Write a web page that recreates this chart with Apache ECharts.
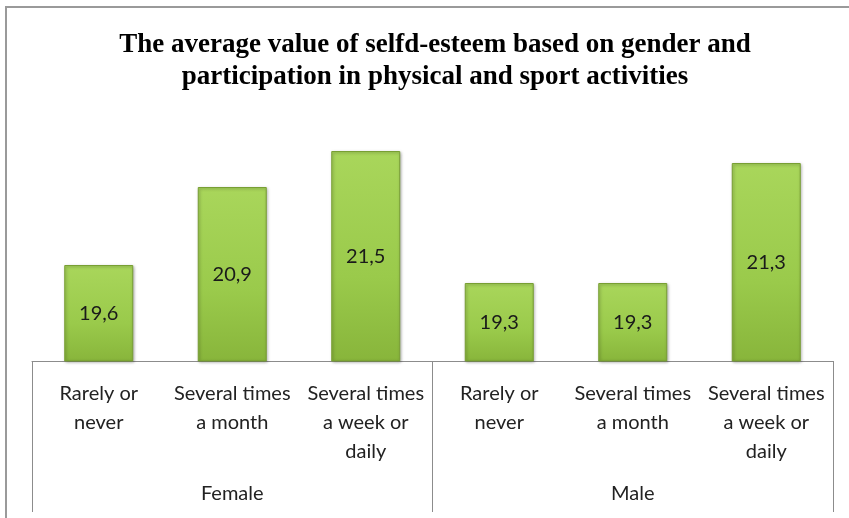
<!DOCTYPE html>
<html>
<head>
<meta charset="utf-8">
<script src="https://cdn.jsdelivr.net/npm/echarts@6/dist/echarts.min.js"></script>
<style>
  html, body { margin: 0; padding: 0; background: #fff; }
  #chart { width: 849px; height: 518px; }
</style>
</head>
<body>
<div id="chart"></div>
<script>
// data
var activity = ['Rarely or\nnever', 'Several times\na month', 'Several times\na week or\ndaily',
                'Rarely or\nnever', 'Several times\na month', 'Several times\na week or\ndaily'];
var gender = ['Female', 'Male'];
var selfEsteem = [19.6, 20.9, 21.5, 19.3, 19.3, 21.3];

var myChart = echarts.init(document.getElementById('chart'));

var barColor = new echarts.graphic.LinearGradient(0, 0, 0, 1, [
  {offset: 0, color: '#a9d65b'},
  {offset: 0.6, color: '#9aca4b'},
  {offset: 1, color: '#88b53b'}
]);

option = {
  animation: false,
  graphic: [{
    type: 'rect',
    shape: {x: 6, y: 7, width: 900, height: 600},
    style: {fill: 'none', stroke: '#9a9a9a', lineWidth: 2},
    silent: true
  }],
  title: {
    text: 'The average value of selfd-esteem based on gender and\nparticipation in physical and sport activities',
    left: 430,
    textAlign: 'center',
    top: 24,
    textStyle: {
      fontFamily: 'Liberation Serif',
      fontWeight: 'bold',
      fontSize: 27,
      lineHeight: 32,
      color: '#000'
    }
  },
  grid: {
    left: 32,
    right: 16,
    top: 121,
    bottom: 157
  },
  xAxis: [{
    type: 'category',
    data: activity,
    position: 'bottom',
    axisLine: {lineStyle: {color: '#8c8c8c', width: 1}},
    axisTick: {show: false},
    axisLabel: {
      interval: 0,
      margin: 18,
      fontFamily: 'Lato',
      fontSize: 20,
      lineHeight: 29,
      color: '#222'
    }
  }, {
    type: 'category',
    data: gender,
    position: 'bottom',
    axisLine: {show: false},
    axisTick: {show: true, length: 151, lineStyle: {color: '#8c8c8c'}},
    axisLabel: {
      margin: 123,
      fontFamily: 'Lato',
      fontSize: 20,
      color: '#222'
    }
  }],
  yAxis: {
    type: 'value',
    min: 18,
    max: 22,
    show: false,
    splitLine: {show: false}
  },
  series: [{
    type: 'bar',
    xAxisIndex: 0,
    data: selfEsteem,
    barWidth: 69,
    itemStyle: {
      color: barColor,
      borderColor: '#789f33',
      borderWidth: 1,
      shadowColor: 'rgba(0,0,0,0.35)',
      shadowBlur: 3,
      shadowOffsetX: 1,
      shadowOffsetY: 1
    },
    label: {
      show: true,
      position: 'inside',
      fontFamily: 'Lato',
      fontSize: 20,
      color: '#1a1a1a',
      formatter: function (p) { return String(p.value).replace('.', ','); }
    }
  }]
};
myChart.setOption(option);
</script>
</body>
</html>
